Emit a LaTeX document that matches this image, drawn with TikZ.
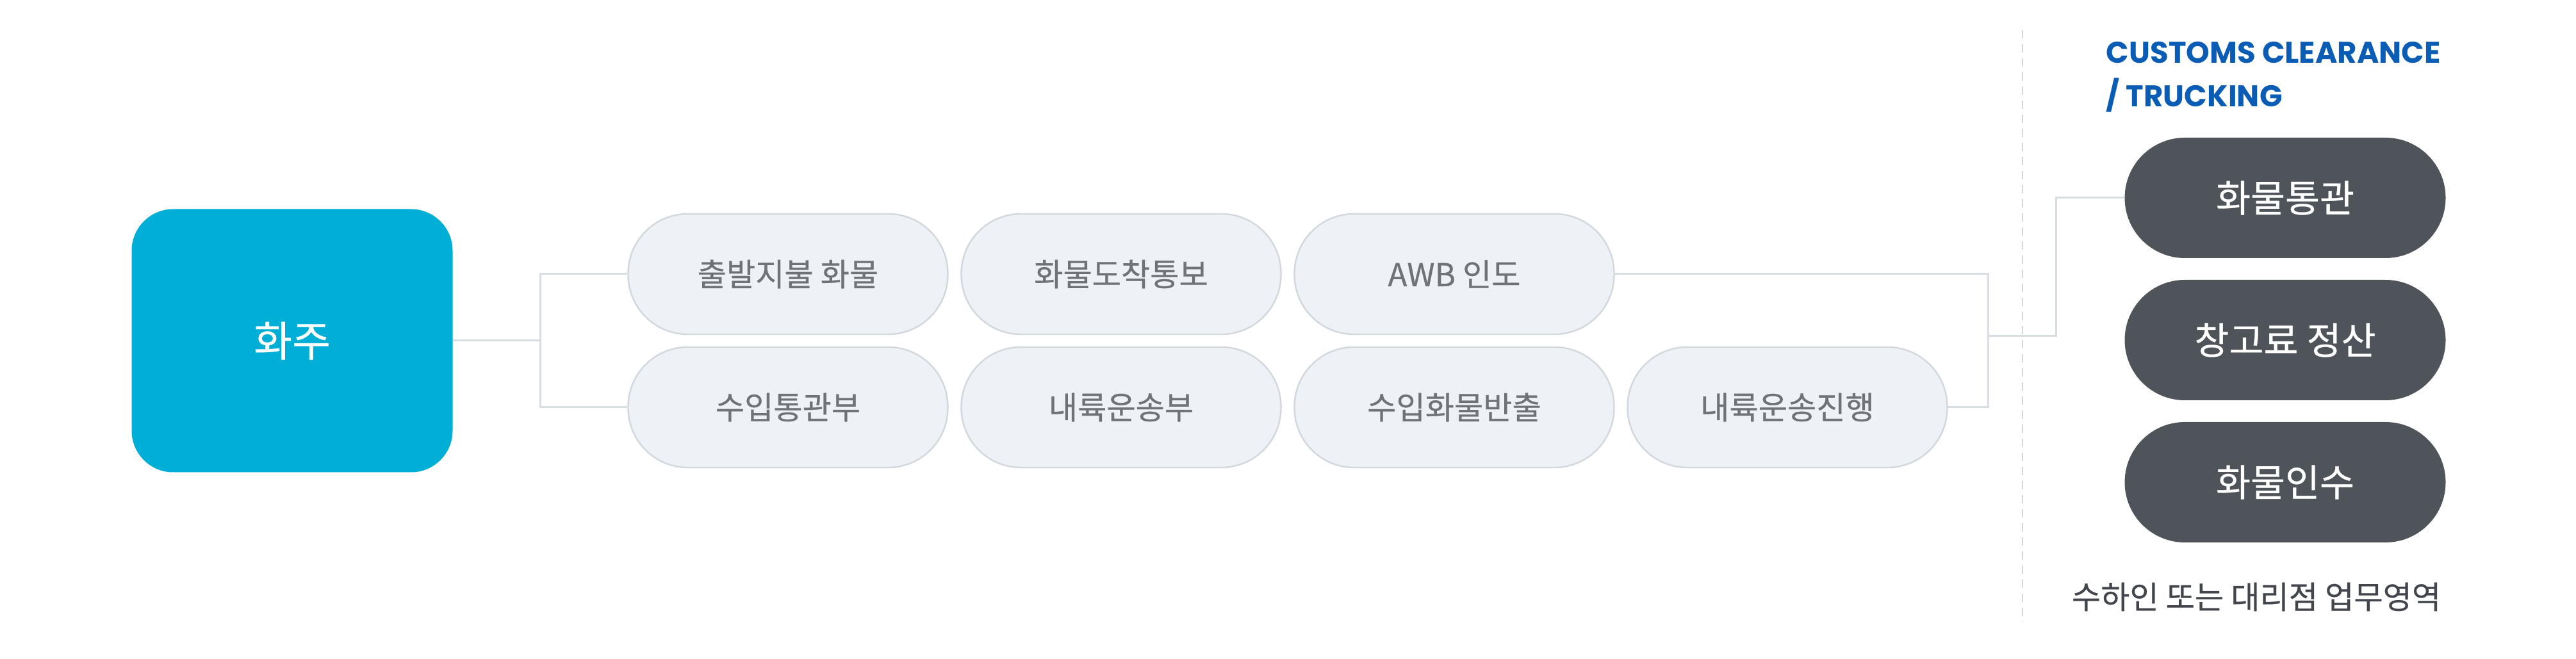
\documentclass[tikz,border=0pt]{standalone}
\usepackage{fontspec}
\setmainfont{Noto Sans CJK KR}
\newfontfamily\medfont{Noto Sans CJK KR}[FakeBold=0.5]
\newfontfamily\poppins{Poppins}
\definecolor{shipblue}{RGB}{0,174,214}
\definecolor{pillfill}{RGB}{238,242,247}
\definecolor{pillline}{RGB}{211,216,222}
\definecolor{pilltext}{RGB}{110,115,122}
\definecolor{agentgray}{RGB}{79,84,90}
\definecolor{wiregray}{RGB}{216,221,227}
\definecolor{titleblue}{RGB}{10,92,180}
\definecolor{notegray}{RGB}{66,70,76}
\begin{document}
\begin{tikzpicture}
		[shipperstyle/.style={rectangle,fill=shipblue,rounded corners=0.65cm,
minimum width=5.01cm,minimum height=4.11cm,text=white,font=\medfont\fontsize{18.5}{22}\selectfont},
		place1/.style={rectangle,draw=pillline,fill=pillfill,line width=0.7pt,rounded corners=0.93cm,
inner sep=0pt,minimum width=4.99cm,minimum height=1.88cm,text=pilltext,font=\medfont\fontsize{14}{17}\selectfont},
		place2/.style={rectangle,fill=agentgray,rounded corners=0.94cm,
inner sep=0pt,minimum width=5.01cm,minimum height=1.88cm,text=white,font=\medfont\fontsize{16.7}{20}\selectfont},
		textstyle/.style={inner sep=0pt},
		edgestyle/.style={-,draw=wiregray,line width=0.85pt}]
		\useasboundingbox (0,0) rectangle (40.21,-10.29);
		\node at (4.56, -5.32) (shipper) [shipperstyle] {화주};
		\node at (12.30, -4.28) (s1) [place1] {출발지불 화물};
		\node at (17.50, -4.28) (s2) [place1] {화물도착통보};
		\node at (22.70, -4.28) (s3) [place1] {AWB 인도};
		\node at (12.30, -6.36) (s4) [place1] {수입통관부};
		\node at (17.50, -6.36) (s5) [place1] {내륙운송부};
		\node at (22.70, -6.36) (s6) [place1] {수입화물반출};
		\node at (27.90, -6.36) (s7) [place1] {내륙운송진행};
		\node at (35.67, -3.09) (c1) [place2] {화물통관};
		\node at (35.67, -5.31) (c2) [place2] {창고료 정산};
		\node at (35.67, -7.53) (c3) [place2] {화물인수};
		\node at (32.87, -0.65) (text1) [textstyle,anchor=north west,align=left,text=titleblue,
font={\poppins\bfseries\fontsize{13.3}{19.3}\selectfont}] {CUSTOMS CLEARANCE\\/ TRUCKING};
		\node at (35.22, -9.32) (text2) [textstyle,text=notegray,font=\medfont\fontsize{14}{17}\selectfont] {수하인 또는 대리점 업무영역};
		\coordinate (split) at (8.43, -5.32);
		\coordinate (merge) at (31.03, -5.25);
		\coordinate (turn) at (32.09, -5.25);
		\draw[edgestyle] (shipper.east) -- (split);
		\draw[edgestyle] (split) |- (s1.west);
		\draw[edgestyle] (split) |- (s4.west);
		\draw[edgestyle] (s3.east) -| (merge);
		\draw[edgestyle] (s7.east) -| (merge);
		\draw[edgestyle] (merge) -- (turn) |- (c1.west);
		\draw[dashed,dash pattern=on 0.13cm off 0.09cm,draw=pillline,line width=0.55pt] (31.57, -0.47) -- (31.57, -9.72);
	\end{tikzpicture}
\end{document}
